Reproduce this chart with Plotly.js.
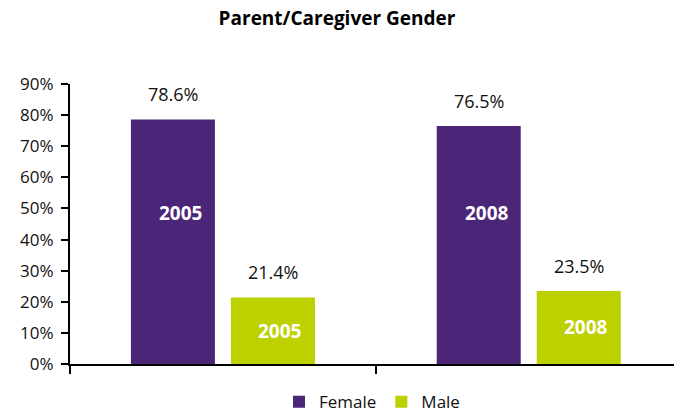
<!DOCTYPE html>
<html>
<head>
<meta charset="utf-8">
<script src="https://cdn.plot.ly/plotly-3.0.1.min.js"></script>
<style>html,body{margin:0;padding:0;background:#fff}#chart{width:674px;height:415px}</style>
</head>
<body>
<div id="chart"></div>
<script>
const years = ["2005", "2008"];
const female = [78.6, 76.5];
const male = [21.4, 23.5];
const femaleLabels = ["78.6%", "76.5%"];
const maleLabels = ["21.4%", "23.5%"];
const seriesNames = ["Female", "Male"];

const purple = "#4B2577";
const green = "#BDD000";
const font = "Open Sans, Noto Sans, sans-serif";
const bargap = 0.346;
const off = (1 - bargap) / 4;

const traces = [
  {type: "bar", name: seriesNames[0], x: years, y: female, marker: {color: purple}, hoverinfo: "none"},
  {type: "bar", name: seriesNames[1], x: years, y: male, marker: {color: green}, hoverinfo: "none"}
];

const ann = [];
years.forEach((yr, i) => {
  ann.push({x: i - off, y: female[i], xref: "x", yref: "y", text: femaleLabels[i], showarrow: false,
    yanchor: "bottom", yshift: 11, font: {family: font, size: 18, color: "#111"}});
  ann.push({x: i + off, y: male[i], xref: "x", yref: "y", text: maleLabels[i], showarrow: false,
    yanchor: "bottom", yshift: 11, font: {family: font, size: 18, color: "#111"}});
  ann.push({x: i - off, y: 48.5, xref: "x", yref: "y", text: "<b>" + yr + "</b>", showarrow: false,
    xshift: 8, font: {family: font, size: 19, color: "#fff"}});
  ann.push({x: i + off, y: male[i] / 2, xref: "x", yref: "y", text: "<b>" + yr + "</b>", showarrow: false,
    xshift: 7, font: {family: font, size: 19, color: "#fff"}});
});

const layout = {
  width: 674, height: 415,
  margin: {l: 70, r: 0, t: 84, b: 51, autoexpand: false},
  paper_bgcolor: "#fff", plot_bgcolor: "#fff",
  title: {text: "<b>Parent/Caregiver Gender</b>", x: 0.5, xanchor: "center", y: 0.956, yanchor: "middle",
    font: {family: font, size: 19, color: "#000"}},
  barmode: "group", bargap: bargap, bargroupgap: 0.16,
  showlegend: true,
  legend: {orientation: "h", x: 0.5, xanchor: "center", yref: "container", y: 0.031, yanchor: "middle",
    font: {family: font, size: 17, color: "#111"}, itemwidth: 30, tracegroupgap: 0},
  xaxis: {type: "category", range: [-0.5, 1.475], showticklabels: false, showline: true, linecolor: "#000",
    linewidth: 2, ticks: "outside", tickson: "boundaries", ticklen: 8, tickcolor: "#000", tickwidth: 2,
    showgrid: false, zeroline: false, fixedrange: true},
  yaxis: {range: [0, 90], tickvals: [0,10,20,30,40,50,60,70,80,90],
    ticktext: ["0%","10%","20%","30%","40%","50%","60%","70%","80%","90%"],
    showline: true, linecolor: "#000", linewidth: 2, ticks: "outside", ticklen: 7, tickcolor: "#000",
    tickwidth: 2, showgrid: false, zeroline: false, tickfont: {family: font, size: 17, color: "#111"},
    ticklabelstandoff: 4, fixedrange: true},
  annotations: ann
};

Plotly.newPlot("chart", traces, layout, {displayModeBar: false, staticPlot: true});
</script>
</body>
</html>
